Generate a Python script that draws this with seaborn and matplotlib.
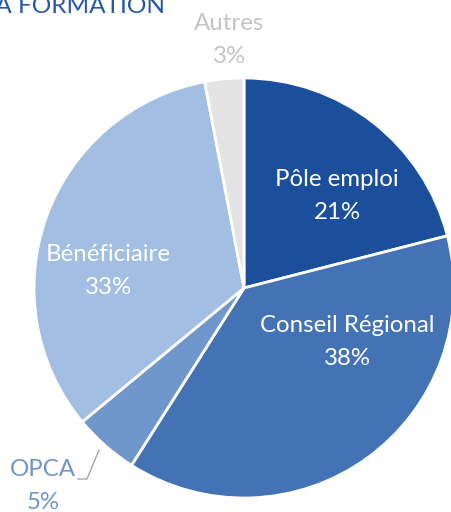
import matplotlib
matplotlib.use("Agg")
import matplotlib.pyplot as plt
import seaborn as sns

sns.set_theme(style="white")
plt.rcParams['font.family'] = ['Lato', 'DejaVu Sans']

categories = ["Pôle emploi", "Conseil Régional", "OPCA", "Bénéficiaire", "Autres"]
values = [21, 38, 5, 33, 3]
colors = ["#1B4F9C", "#4473B5", "#7097CB", "#A3BEE3", "#E3E3E3"]
label_colors = ["white", "white", "#6F96CC", "white", "#C4C4C4"]
title = "FINANCEMENT DE LA FORMATION"

W, H = 451, 512
fig = plt.figure(figsize=(W / 100, H / 100), dpi=100)
ax = fig.add_axes([0, 0, 1, 1])

cx, cy, R = 244, 224, 210
ax.pie(values, colors=colors, startangle=90, counterclock=False,
       center=(cx, cy), radius=R, frame=True,
       wedgeprops=dict(edgecolor="white", linewidth=2.0))
ax.set_xlim(0, W)
ax.set_ylim(0, H)
ax.set_aspect("equal")
ax.axis("off")

label_pos = {
    "Pôle emploi": (337, 316),
    "Conseil Régional": (347, 170),
    "OPCA": (43, 26),
    "Bénéficiaire": (108, 241),
    "Autres": (229, 472),
}
for cat, val, lc in zip(categories, values, label_colors):
    x, y = label_pos[cat]
    ax.text(x, y, f"{cat}\n{val}%", ha="center", va="center", color=lc,
            fontsize=17.3, linespacing=1.7)

# leader line for OPCA
ax.plot([78, 87, 99], [33, 33, 62], color="#A6A6A6", lw=1.0)

ax.text(165, 499, title, ha="right", va="baseline", color="#2457A8",
        fontsize=17.6)

fig.savefig("out.png", dpi=100)
